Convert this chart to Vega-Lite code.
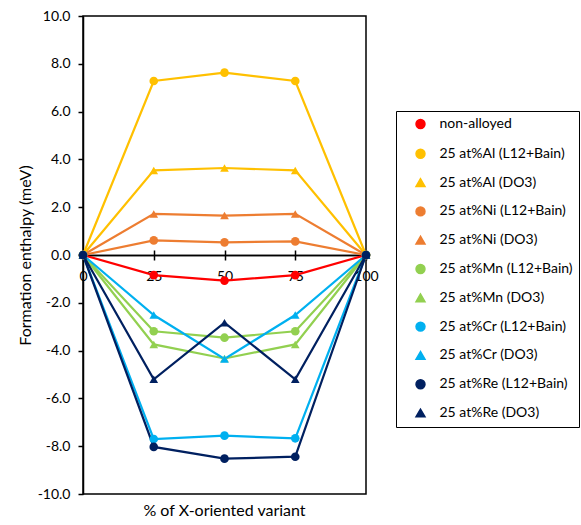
{
  "$schema": "https://vega.github.io/schema/vega-lite/v6.json",
  "autosize": "none",
  "width": 283,
  "height": 478,
  "padding": {"left": 83, "top": 16, "right": 215, "bottom": 31},
  "background": "white",
  "config": {
    "view": {"stroke": "#000", "strokeWidth": 1.5},
    "font": "Lato",
    "axis": {"grid": false, "domainColor": "#000", "domainWidth": 1.5, "tickColor": "#000", "tickWidth": 1.5, "labelColor": "#000", "labelFont": "Lato", "labelFontSize": 14, "titleFont": "Lato", "titleFontSize": 16, "titleFontWeight": "normal", "titleColor": "#000"}
  },
  "title": {"text": "% of X-oriented variant", "orient": "bottom", "anchor": "middle", "frame": "group", "fontSize": 16, "fontWeight": "normal", "font": "Lato", "color": "#000", "offset": 2},
  "data": {"values": [
    {"series": "non-alloyed", "type": "none", "x": 0, "y": 0},
    {"series": "non-alloyed", "type": "none", "x": 25, "y": -0.84},
    {"series": "non-alloyed", "type": "none", "x": 50, "y": -1.07},
    {"series": "non-alloyed", "type": "none", "x": 75, "y": -0.84},
    {"series": "non-alloyed", "type": "none", "x": 100, "y": 0},
    {"series": "25 at%Al (L12+Bain)", "type": "L12+Bain", "x": 0, "y": 0},
    {"series": "25 at%Al (L12+Bain)", "type": "L12+Bain", "x": 25, "y": 7.28},
    {"series": "25 at%Al (L12+Bain)", "type": "L12+Bain", "x": 50, "y": 7.63},
    {"series": "25 at%Al (L12+Bain)", "type": "L12+Bain", "x": 75, "y": 7.28},
    {"series": "25 at%Al (L12+Bain)", "type": "L12+Bain", "x": 100, "y": 0},
    {"series": "25 at%Al (DO3)", "type": "DO3", "x": 0, "y": 0},
    {"series": "25 at%Al (DO3)", "type": "DO3", "x": 25, "y": 3.54},
    {"series": "25 at%Al (DO3)", "type": "DO3", "x": 50, "y": 3.64},
    {"series": "25 at%Al (DO3)", "type": "DO3", "x": 75, "y": 3.54},
    {"series": "25 at%Al (DO3)", "type": "DO3", "x": 100, "y": 0},
    {"series": "25 at%Ni (L12+Bain)", "type": "L12+Bain", "x": 0, "y": 0},
    {"series": "25 at%Ni (L12+Bain)", "type": "L12+Bain", "x": 25, "y": 0.61},
    {"series": "25 at%Ni (L12+Bain)", "type": "L12+Bain", "x": 50, "y": 0.53},
    {"series": "25 at%Ni (L12+Bain)", "type": "L12+Bain", "x": 75, "y": 0.57},
    {"series": "25 at%Ni (L12+Bain)", "type": "L12+Bain", "x": 100, "y": 0},
    {"series": "25 at%Ni (DO3)", "type": "DO3", "x": 0, "y": 0},
    {"series": "25 at%Ni (DO3)", "type": "DO3", "x": 25, "y": 1.72},
    {"series": "25 at%Ni (DO3)", "type": "DO3", "x": 50, "y": 1.65},
    {"series": "25 at%Ni (DO3)", "type": "DO3", "x": 75, "y": 1.72},
    {"series": "25 at%Ni (DO3)", "type": "DO3", "x": 100, "y": 0},
    {"series": "25 at%Mn (L12+Bain)", "type": "L12+Bain", "x": 0, "y": 0},
    {"series": "25 at%Mn (L12+Bain)", "type": "L12+Bain", "x": 25, "y": -3.19},
    {"series": "25 at%Mn (L12+Bain)", "type": "L12+Bain", "x": 50, "y": -3.46},
    {"series": "25 at%Mn (L12+Bain)", "type": "L12+Bain", "x": 75, "y": -3.19},
    {"series": "25 at%Mn (L12+Bain)", "type": "L12+Bain", "x": 100, "y": 0},
    {"series": "25 at%Mn (DO3)", "type": "DO3", "x": 0, "y": 0},
    {"series": "25 at%Mn (DO3)", "type": "DO3", "x": 25, "y": -3.74},
    {"series": "25 at%Mn (DO3)", "type": "DO3", "x": 50, "y": -4.33},
    {"series": "25 at%Mn (DO3)", "type": "DO3", "x": 75, "y": -3.74},
    {"series": "25 at%Mn (DO3)", "type": "DO3", "x": 100, "y": 0},
    {"series": "25 at%Cr (L12+Bain)", "type": "L12+Bain", "x": 0, "y": 0},
    {"series": "25 at%Cr (L12+Bain)", "type": "L12+Bain", "x": 25, "y": -7.7},
    {"series": "25 at%Cr (L12+Bain)", "type": "L12+Bain", "x": 50, "y": -7.56},
    {"series": "25 at%Cr (L12+Bain)", "type": "L12+Bain", "x": 75, "y": -7.67},
    {"series": "25 at%Cr (L12+Bain)", "type": "L12+Bain", "x": 100, "y": 0},
    {"series": "25 at%Cr (DO3)", "type": "DO3", "x": 0, "y": 0},
    {"series": "25 at%Cr (DO3)", "type": "DO3", "x": 25, "y": -2.51},
    {"series": "25 at%Cr (DO3)", "type": "DO3", "x": 50, "y": -4.35},
    {"series": "25 at%Cr (DO3)", "type": "DO3", "x": 75, "y": -2.51},
    {"series": "25 at%Cr (DO3)", "type": "DO3", "x": 100, "y": 0},
    {"series": "25 at%Re (L12+Bain)", "type": "L12+Bain", "x": 0, "y": 0},
    {"series": "25 at%Re (L12+Bain)", "type": "L12+Bain", "x": 25, "y": -8.03},
    {"series": "25 at%Re (L12+Bain)", "type": "L12+Bain", "x": 50, "y": -8.52},
    {"series": "25 at%Re (L12+Bain)", "type": "L12+Bain", "x": 75, "y": -8.44},
    {"series": "25 at%Re (L12+Bain)", "type": "L12+Bain", "x": 100, "y": 0},
    {"series": "25 at%Re (DO3)", "type": "DO3", "x": 0, "y": 0},
    {"series": "25 at%Re (DO3)", "type": "DO3", "x": 25, "y": -5.2},
    {"series": "25 at%Re (DO3)", "type": "DO3", "x": 50, "y": -2.83},
    {"series": "25 at%Re (DO3)", "type": "DO3", "x": 75, "y": -5.2},
    {"series": "25 at%Re (DO3)", "type": "DO3", "x": 100, "y": 0}
  ]},
  "resolve": {"axis": {"x": "independent"}},
  "layer": [
    {
      "mark": {"type": "line", "strokeWidth": 2.2},
      "encoding": {
        "x": {"field": "x", "type": "quantitative", "scale": {"domain": [0, 100], "nice": false},
              "axis": {"orient": "bottom", "offset": -239, "values": [0, 25, 50, 75, 100], "title": null, "labelFlush": false, "tickSize": 5, "labelPadding": 9, "labelOverlap": false}},
        "y": {"field": "y", "type": "quantitative", "scale": {"domain": [-10, 10], "nice": false},
              "axis": {"values": [-10, -8, -6, -4, -2, 0, 2, 4, 6, 8, 10], "labelExpr": "replace(format(datum.value, '.1f'), '\u2212', '-')", "title": "Formation enthalpy (meV)", "tickSize": 5, "labelPadding": 8, "titlePadding": 4}},
        "color": {"field": "series", "type": "nominal",
                  "scale": {"domain": ["non-alloyed", "25 at%Al (L12+Bain)", "25 at%Al (DO3)", "25 at%Ni (L12+Bain)", "25 at%Ni (DO3)", "25 at%Mn (L12+Bain)", "25 at%Mn (DO3)", "25 at%Cr (L12+Bain)", "25 at%Cr (DO3)", "25 at%Re (L12+Bain)", "25 at%Re (DO3)"],
                            "range": ["#FF0000", "#FFC000", "#FFC000", "#ED7D31", "#ED7D31", "#92D050", "#92D050", "#00B0F0", "#00B0F0", "#002060", "#002060"]}},
        "detail": {"field": "series"},
        "order": {"field": "x", "type": "quantitative"}
      }
    },
    {
      "mark": {"type": "point", "filled": true, "opacity": 1},
      "encoding": {
        "x": {"field": "x", "type": "quantitative", "scale": {"domain": [0, 100], "nice": false},
              "axis": {"orient": "top", "offset": -239, "values": [0, 25, 50, 75, 100], "labels": false, "title": null, "tickSize": 5}},
        "y": {"field": "y", "type": "quantitative"},
        "color": {"field": "series", "type": "nominal",
                  "legend": {"title": null, "orient": "none", "legendX": 313, "legendY": 95, "padding": 6,
                             "strokeColor": "#000", "symbolSize": 80, "symbolOffset": 11.5, "rowPadding": 13.8,
                             "labelFont": "Lato", "labelFontSize": 14, "labelColor": "#000", "labelOffset": 12, "labelLimit": 300,
                             "encode": {"legend": {"strokeWidth": {"value": 1.5}, "fill": {"value": "white"}}}}},
        "shape": {"field": "series", "type": "nominal",
                  "scale": {"domain": ["non-alloyed", "25 at%Al (L12+Bain)", "25 at%Al (DO3)", "25 at%Ni (L12+Bain)", "25 at%Ni (DO3)", "25 at%Mn (L12+Bain)", "25 at%Mn (DO3)", "25 at%Cr (L12+Bain)", "25 at%Cr (DO3)", "25 at%Re (L12+Bain)", "25 at%Re (DO3)"],
                            "range": ["circle", "circle", "triangle-up", "circle", "triangle-up", "circle", "triangle-up", "circle", "triangle-up", "circle", "triangle-up"]},
                  "legend": {"title": null, "orient": "none", "legendX": 313, "legendY": 95, "padding": 6,
                             "strokeColor": "#000", "symbolSize": 80, "symbolOffset": 11.5, "rowPadding": 13.8,
                             "labelFont": "Lato", "labelFontSize": 14, "labelColor": "#000", "labelOffset": 12, "labelLimit": 300,
                             "encode": {"legend": {"strokeWidth": {"value": 1.5}, "fill": {"value": "white"}}}}},
        "size": {"field": "type", "type": "ordinal", "legend": null, "scale": {"domain": ["none", "L12+Bain", "DO3"], "range": [75, 75, 100]}}
      }
    }
  ]
}
